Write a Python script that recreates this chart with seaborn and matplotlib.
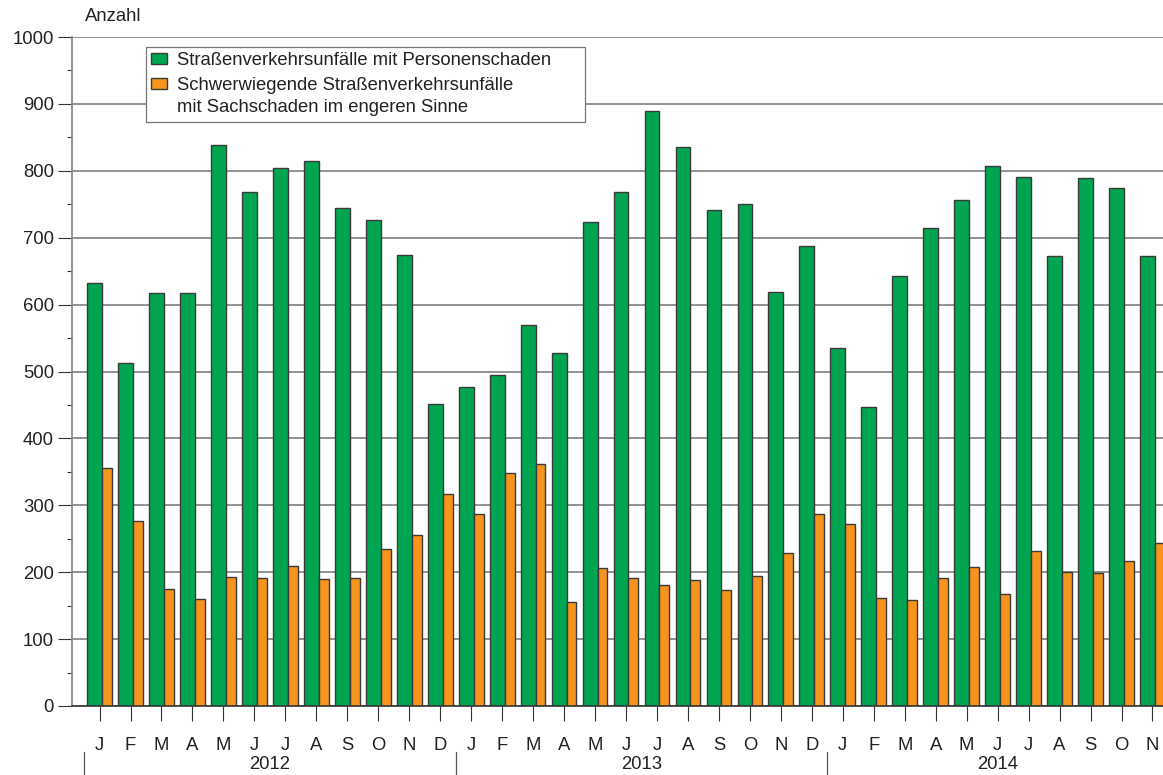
import pandas as pd
import matplotlib
matplotlib.use("Agg")
import matplotlib.pyplot as plt
import matplotlib.transforms as mtransforms
from matplotlib.patches import Patch
from matplotlib.ticker import MultipleLocator
import seaborn as sns

# Monatswerte Jan 2012 - Nov 2014
months = ["J", "F", "M", "A", "M", "J", "J", "A", "S", "O", "N", "D"] * 2 + \
         ["J", "F", "M", "A", "M", "J", "J", "A", "S", "O", "N"]
years = ["2012", "2013", "2014"]
personenschaden = [632, 512, 618, 618, 838, 769, 804, 815, 745, 727, 674, 452,
                   477, 495, 569, 528, 723, 768, 889, 835, 741, 751, 619, 687,
                   535, 447, 643, 714, 757, 807, 790, 673, 789, 774, 672]
sachschaden = [356, 277, 175, 160, 193, 192, 210, 190, 191, 235, 255, 317,
               287, 348, 361, 155, 206, 191, 181, 188, 174, 195, 229, 287,
               272, 161, 158, 191, 208, 167, 231, 200, 199, 216, 243]
label_personen = "Straßenverkehrsunfälle mit Personenschaden"
label_sach = "Schwerwiegende Straßenverkehrsunfälle\nmit Sachschaden im engeren Sinne"

green = "#00a551"
orange = "#f7941d"
edge = "#3a3a3a"
textcol = "#222222"
fs = 13.3

sns.set_style("white")
plt.rcParams["font.family"] = ["Liberation Sans", "DejaVu Sans"]

df = pd.DataFrame({"pos": range(len(months)), "personen": personenschaden, "sach": sachschaden})

fig = plt.figure(figsize=(11.63, 7.75), dpi=100)
ax = fig.add_axes([72 / 1163, 69 / 775, 1 - 72 / 1163, 669 / 775])

# gruene Balken breiter als orange, beide um die Monatsmitte
sns.barplot(x=df["pos"] - 0.16, y=df["personen"], native_scale=True, width=0.48,
            color=green, saturation=1, errorbar=None, edgecolor=edge, linewidth=1, ax=ax)
sns.barplot(x=df["pos"] + 0.24, y=df["sach"], native_scale=True, width=0.32,
            color=orange, saturation=1, errorbar=None, edgecolor=edge, linewidth=1, ax=ax)

ax.set_xlim(-0.89, len(months) - 1 + 0.34)
ax.set_ylim(0, 1000)
ax.set_xlabel("")
ax.set_ylabel("")

ax.set_xticks(range(len(months)))
ax.set_xticklabels(months)
ax.yaxis.set_major_locator(MultipleLocator(100))
ax.yaxis.set_minor_locator(MultipleLocator(50))
ax.tick_params(axis="x", which="major", direction="out", length=11, width=0.8,
               color="#333333", pad=11, labelsize=fs, labelcolor=textcol, bottom=True)
ax.tick_params(axis="y", which="major", direction="out", length=10, width=0.8,
               color="#333333", pad=3, labelsize=fs, labelcolor=textcol, left=True)
ax.tick_params(axis="y", which="minor", direction="out", length=3.5, width=0.8,
               color="#333333", left=True)

ax.yaxis.grid(True, which="major", color="#8a8a8a", linewidth=1.3)
ax.set_axisbelow(True)
for s in ["top", "right"]:
    ax.spines[s].set_visible(False)
ax.spines["left"].set_color("#8a8a8a")
ax.spines["left"].set_linewidth(1.3)
ax.spines["bottom"].set_color("#333333")
ax.spines["bottom"].set_linewidth(1.2)

ax.text(0.012, 1.03, "Anzahl", transform=ax.transAxes, fontsize=fs,
        color=textcol, va="center", ha="left")

# Jahresbeschriftung unter den Monaten
trans = mtransforms.blended_transform_factory(ax.transData, ax.transAxes)
for i, yr in enumerate(years):
    start = i * 12 - 0.5
    ax.plot([start, start], [-0.069, -0.104], transform=trans, color="#555555",
            linewidth=0.9, clip_on=False)
    end = min(start + 12, len(months) - 0.5)
    ax.text((start + end) / 2, -0.088, yr, transform=trans, ha="center", va="center",
            fontsize=fs, color=textcol)

handles = [Patch(facecolor=green, edgecolor=edge, linewidth=1),
           Patch(facecolor=orange, edgecolor=edge, linewidth=1)]
leg = ax.legend(handles, [label_personen, label_sach], loc="upper left",
                bbox_to_anchor=(0.068, 0.0, 0.4024, 0.9855), mode="expand",
                borderaxespad=0, fontsize=fs,
                frameon=True, fancybox=False, edgecolor="#777777", framealpha=1,
                handlelength=0.87, handleheight=0.55, handletextpad=0.5,
                labelspacing=0.42, borderpad=0.28, labelcolor=textcol)
leg.get_frame().set_linewidth(0.9)
for t in leg.get_texts():
    t.set_linespacing(1.45)
# Handle auf die erste Zeile des zweizeiligen Eintrags setzen
p = leg.get_patches()[1]
p.set_y(p.get_y() + fs * 0.72)

fig.savefig("out.png", dpi=100)
